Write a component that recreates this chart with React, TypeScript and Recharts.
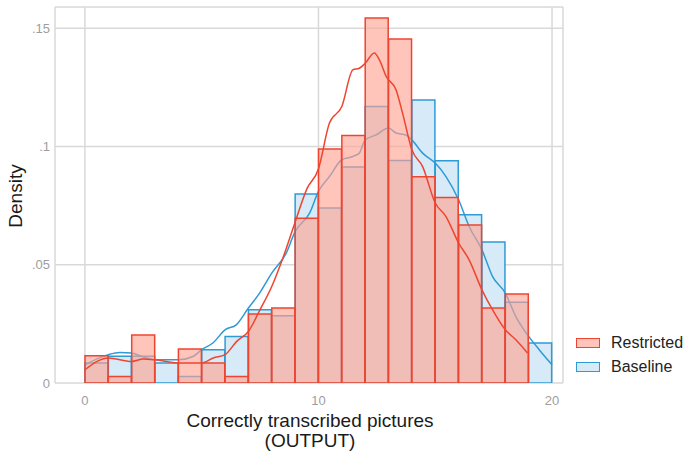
import {
  ComposedChart, Bar, Line, XAxis, YAxis, CartesianGrid,
} from "recharts";

// histogram bins [i, i+1), density per bin
const bins = ["0", "1", "2", "3", "4", "5", "6", "7", "8", "9", "10", "11", "12", "13", "14", "15", "16", "17", "18", "19"];
const restricted = [0.0115, 0.0028, 0.0203, null, 0.0144, 0.0085, 0.0028, 0.0292, 0.0317, 0.0697, 0.0989, 0.1047, 0.1543, 0.1455, 0.0872, 0.0784, 0.0668, 0.0317, 0.0376, null];
const baseline = [0.0085, 0.0113, 0.0113, 0.0085, 0.0028, 0.0141, 0.0197, 0.031, 0.0284, 0.0799, 0.074, 0.0913, 0.1169, 0.0941, 0.1197, 0.094, 0.0711, 0.0596, 0.0341, 0.0169];

// kernel density curves
const redKdeX = [0, 1, 2, 2.5, 3, 4, 5, 5.5, 6, 6.5, 7, 7.5, 8, 8.5, 9, 9.5, 10, 10.47, 11, 11.47, 11.75, 12, 12.39, 12.61, 12.9, 13.32, 13.6, 14, 14.46, 15, 15.46, 16, 16.45, 17, 17.45, 18, 18.45, 18.95];
const redKdeY = [0.0056, 0.0106, 0.0091, 0.0101, 0.0098, 0.0085, 0.0085, 0.0106, 0.012, 0.0176, 0.0218, 0.031, 0.0408, 0.0535, 0.068, 0.082, 0.0905, 0.1099, 0.1169, 0.1324, 0.1331, 0.1352, 0.1395, 0.1366, 0.1296, 0.124, 0.1141, 0.0986, 0.0915, 0.0761, 0.0704, 0.0592, 0.0521, 0.0394, 0.031, 0.0225, 0.0183, 0.0127];
const blueKdeX = [0, 1, 1.5, 2, 2.5, 3, 3.77, 4, 4.63, 5, 5.48, 6, 6.48, 7, 7.48, 8, 8.62, 9, 9.62, 10, 10.47, 11, 11.47, 11.75, 12, 12.47, 13, 13.32, 13.75, 14, 14.46, 15, 15.46, 16, 16.45, 17, 17.45, 18, 18.45, 19, 19.45, 20];
const blueKdeY = [0.0077, 0.012, 0.0129, 0.0127, 0.011, 0.0098, 0.0098, 0.0098, 0.0112, 0.0141, 0.0169, 0.0225, 0.0246, 0.0317, 0.038, 0.0465, 0.0549, 0.064, 0.0718, 0.081, 0.0873, 0.0944, 0.0958, 0.0972, 0.1028, 0.1049, 0.1078, 0.1057, 0.1049, 0.1028, 0.0972, 0.093, 0.0873, 0.0775, 0.0662, 0.0563, 0.0451, 0.038, 0.0281, 0.0197, 0.0141, 0.0077];

const xTicks = [0, 10, 20];
const yTicks = [0, 0.05, 0.1, 0.15];

const RED = "#ee4530";
const BLUE = "#2e9ad6";
const FONT = "'Liberation Sans', Arial, sans-serif";

const barData = bins.map((b, i) => ({ bin: b, restricted: restricted[i], baseline: baseline[i] }));
const redKde = redKdeX.map((x, i) => ({ x, y: redKdeY[i] }));
const blueKde = blueKdeX.map((x, i) => ({ x, y: blueKdeY[i] }));

const fmtY = (v: number) => (v === 0 ? "0" : String(v).replace(/^0/, ""));

const legendItems = [
  { label: "Restricted", fill: "rgba(255,161,145,0.63)", stroke: RED },
  { label: "Baseline", fill: "#d6ebf7", stroke: BLUE },
];

// x tick labels sit just under the zero line
const XTick = (props: any) => (
  <text x={props.x} y={405} textAnchor="middle" fontSize={13} fill="#9e9e9e" fontFamily={FONT}>
    {props.payload.value}
  </text>
);

export default function App() {
  return (
    <div style={{ position: "absolute", left: 0, top: 0, width: 686, height: 454, background: "#fff" }}>
      <ComposedChart
        width={686}
        height={454}
        data={barData}
        margin={{ top: 7, right: 123, bottom: 0, left: 0 }}
        barCategoryGap={0}
        barGap={0}
        style={{ fontFamily: FONT }}
      >
        <CartesianGrid xAxisId="num" stroke="#d9d9d9" strokeWidth={1.5} />
        <XAxis xAxisId="blue" dataKey="bin" type="category" hide padding={{ left: 30, right: 11 }} />
        <XAxis xAxisId="red" dataKey="bin" type="category" hide padding={{ left: 30, right: 11 }} />
        <XAxis
          xAxisId="num"
          dataKey="x"
          type="number"
          domain={[-1.28, 20.47]}
          ticks={xTicks}
          allowDataOverflow
          height={71}
          axisLine={false}
          tickLine={false}
          tick={<XTick />}
          label={{
            content: () => (
              <g>
                <text x={310} y={427} textAnchor="middle" fontSize={19} fill="#1a1a1a" fontFamily={FONT}>Correctly transcribed pictures</text>
                <text x={310} y={447} textAnchor="middle" fontSize={19} fill="#1a1a1a" fontFamily={FONT}>(OUTPUT)</text>
              </g>
            ),
          }}
        />
        <YAxis
          domain={[0, 0.159]}
          ticks={yTicks}
          allowDataOverflow
          width={55}
          axisLine={false}
          tickLine={false}
          tickSize={0}
          tickMargin={5}
          tickFormatter={fmtY}
          tick={{ fill: "#9e9e9e", fontSize: 13 }}
          label={{
            content: () => (
              <text x={0} y={0} transform="translate(22,196) rotate(-90)" textAnchor="middle" fontSize={19} fill="#1a1a1a" fontFamily={FONT}>Density</text>
            ),
          }}
        />
        <Bar xAxisId="blue" dataKey="baseline" fill="#d6ebf7" stroke={BLUE} strokeWidth={1.5} isAnimationActive={false} zIndex={300} />
        <Line xAxisId="num" data={blueKde} dataKey="y" type="monotone" stroke={BLUE} strokeWidth={1.5} dot={false} activeDot={false} isAnimationActive={false} zIndex={310} />
        <Bar xAxisId="red" dataKey="restricted" fill="rgb(255,161,145)" fillOpacity={0.63} stroke={RED} strokeWidth={1.5} isAnimationActive={false} zIndex={320} />
        <Line xAxisId="num" data={redKde} dataKey="y" type="monotone" stroke={RED} strokeWidth={1.5} dot={false} activeDot={false} isAnimationActive={false} zIndex={400} />
      </ComposedChart>
      <div style={{ position: "absolute", left: 576, top: 331, fontFamily: FONT, fontSize: 16, color: "#222" }}>
        {legendItems.map((it) => (
          <div key={it.label} style={{ display: "flex", alignItems: "center", height: 24 }}>
            <span style={{ display: "inline-block", width: 22, height: 8, background: it.fill, border: `1.5px solid ${it.stroke}`, marginRight: 11 }} />
            {it.label}
          </div>
        ))}
      </div>
    </div>
  );
}
